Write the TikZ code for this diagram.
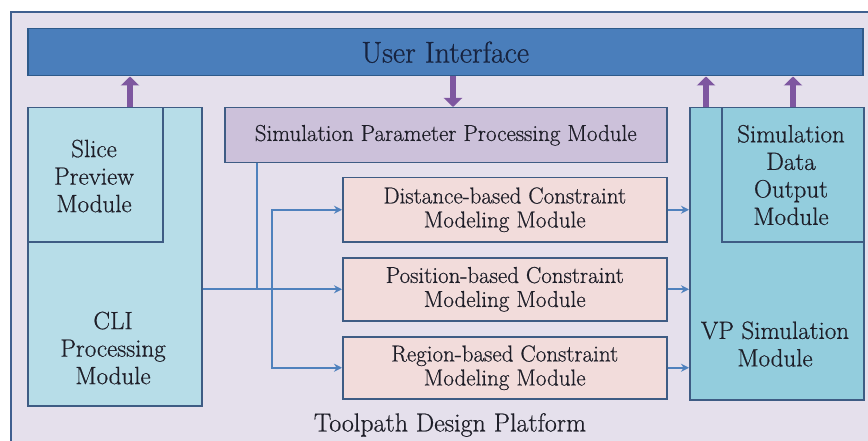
\documentclass[tikz,border=0pt]{standalone}
\usepackage{fontspec}
\setmainfont{Latin Modern Roman}[FakeBold=0.6]
\usetikzlibrary{arrows.meta,calc}
\definecolor{bgc}{HTML}{E5E0EC}
\definecolor{framec}{HTML}{3F5F8F}
\definecolor{uifill}{HTML}{4A7EBB}
\definecolor{uiborder}{HTML}{2E5A8A}
\definecolor{cyanl}{HTML}{B7DDE8}
\definecolor{cyand}{HTML}{93CDDD}
\definecolor{lav}{HTML}{CCC1DA}
\definecolor{pinkc}{HTML}{F2DCDB}
\definecolor{bordc}{HTML}{3E5C84}
\definecolor{purp}{HTML}{7E57A0}
\definecolor{connc}{HTML}{4F81BD}
\definecolor{txt}{HTML}{1E1E28}
\definecolor{uitxt}{HTML}{17233F}
\tikzset{
  box/.style={draw=bordc, line width=1.5pt, inner sep=0pt, align=center, anchor=north west, text=txt},
  lbl/.style={inner sep=0pt, align=center, text=txt},
  bigarrow/.style={draw=purp, line width=6pt, -{Triangle[width=18pt,length=9pt]}},
  conn/.style={draw=connc, line width=1.8pt},
  connarr/.style={conn, -{Stealth[length=8pt,width=8pt]}},
  midfont/.style={font=\fontsize{23}{24}\selectfont},
  sidefont/.style={font=\fontsize{25}{27.5}\selectfont}
}
\begin{document}
\begin{tikzpicture}[x=1pt,y=-1pt]
\useasboundingbox (0,0) rectangle (868,441);
% outer frame
\path[fill=bgc, draw=framec, line width=1.5pt] (11,12) rectangle (900,470);
% user interface
\node[box, fill=uifill, draw=uiborder, minimum width=835pt, minimum height=47pt,
      text=uitxt, font=\fontsize{30}{32}\selectfont] (ui) at (27,28) {User Interface};
% CLI
\node[box, fill=cyanl, minimum width=174pt, minimum height=298pt] (cli) at (27,107) {};
\node[box, fill=cyanl, minimum width=135pt, minimum height=134pt] (slice) at (27,107) {};
\node[lbl, sidefont] (slicetext) at (94,176) {Slice\\Preview\\Module};
\node[lbl, sidefont] (clitext) at (113,348) {CLI\\Processing\\Module};
% sim param
\node[box, fill=lav, minimum width=442pt, minimum height=55pt, midfont] (sp) at (224,107) {Simulation Parameter Processing Module};
% constraint modules
\node[box, fill=pinkc, minimum width=324pt, minimum height=64pt, midfont] (dist) at (342,177) {Distance-based Constraint\\Modeling Module};
\node[box, fill=pinkc, minimum width=324pt, minimum height=63pt, midfont] (pos) at (342,257) {Position-based Constraint\\Modeling Module};
\node[box, fill=pinkc, minimum width=324pt, minimum height=62pt, midfont] (reg) at (342,336) {Region-based Constraint\\Modeling Module};
% VP
\node[box, fill=cyand, minimum width=174pt, minimum height=292pt] (vp) at (689,107) {};
\node[box, fill=cyand, minimum width=142pt, minimum height=134pt] (sdo) at (721,107) {};
\node[lbl, sidefont] (sdotext) at (791,175) {Simulation\\Data\\Output\\Module};
\node[lbl, sidefont] (vptext) at (775,344) {VP Simulation\\Module};
% platform label
\node[lbl, font=\fontsize{26}{28}\selectfont] (plat) at (450,425) {Toolpath Design Platform};
% purple arrows
\draw[bigarrow] (cli.north -| 130,0) -- (ui.south -| 130,0);
\draw[bigarrow] (ui.south -| 453,0) -- (sp.north -| 453,0);
\draw[bigarrow] (vp.north -| 706,0) -- (ui.south -| 706,0);
\draw[bigarrow] (sdo.north -| 793,0) -- (ui.south -| 793,0);
% connectors
\coordinate (j1) at (257,289);
\coordinate (j2) at (272,289);
\draw[conn] (sp.south -| j1) -- (j1);
\draw[connarr] (cli.east |- pos.west) -- (pos.west);
\draw[connarr] (j2) |- (dist.west);
\draw[connarr] (j2) |- (reg.west);
\draw[connarr] (dist.east) -- (dist.east -| vp.west);
\draw[connarr] (pos.east) -- (pos.east -| vp.west);
\draw[connarr] (reg.east) -- (reg.east -| vp.west);
\end{tikzpicture}
\end{document}
